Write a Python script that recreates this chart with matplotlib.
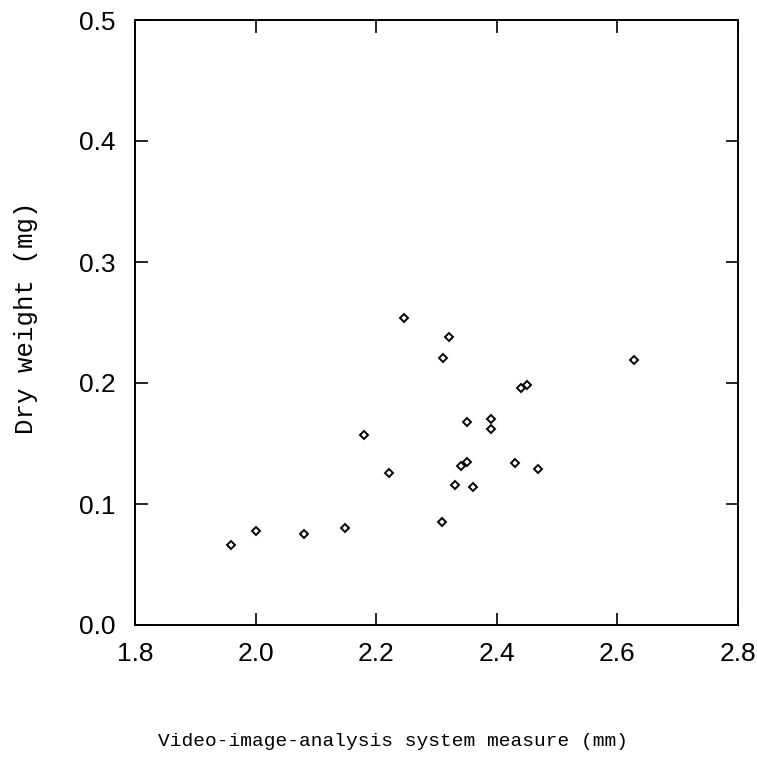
import matplotlib
matplotlib.use("Agg")
import matplotlib.pyplot as plt

x_vals = [1.960, 2.000, 2.080, 2.149, 2.179, 2.221, 2.246, 2.320, 2.310,
          2.440, 2.450, 2.350, 2.390, 2.390, 2.340, 2.350, 2.430, 2.469,
          2.330, 2.360, 2.309, 2.628]
y_vals = [0.066, 0.078, 0.075, 0.080, 0.157, 0.126, 0.254, 0.238, 0.221,
          0.196, 0.198, 0.168, 0.170, 0.162, 0.131, 0.135, 0.134, 0.129,
          0.116, 0.114, 0.085, 0.219]

x_ticks = [1.8, 2.0, 2.2, 2.4, 2.6, 2.8]
x_tick_labels = ["1.8", "2.0", "2.2", "2.4", "2.6", "2.8"]
y_ticks = [0.0, 0.1, 0.2, 0.3, 0.4, 0.5]
y_tick_labels = ["0.0", "0.1", "0.2", "0.3", "0.4", "0.5"]

fig = plt.figure(figsize=(7.57, 7.58), dpi=100)
ax = fig.add_axes([135/757, 1-625/758, (738-135)/757, (625-20)/758])

ax.plot(x_vals, y_vals, linestyle="none", marker="D", markersize=4.2,
        markerfacecolor="white", markeredgecolor="black", markeredgewidth=1.4)

ax.set_xlim(1.8, 2.8)
ax.set_ylim(0.0, 0.5)
ax.set_xticks(x_ticks)
ax.set_xticklabels(x_tick_labels)
ax.set_yticks(y_ticks)
ax.set_yticklabels(y_tick_labels)

for lab in ax.get_xticklabels() + ax.get_yticklabels():
    lab.set_fontfamily("Liberation Sans")
    lab.set_fontsize(19)

ax.tick_params(direction="in", length=9, width=1.2, top=True, right=True,
               labeltop=False, labelright=False)
ax.tick_params(axis="x", pad=12)
ax.tick_params(axis="y", pad=14)
for sp in ax.spines.values():
    sp.set_linewidth(1.4)

fig.text(26/757, 1-318/758, "Dry weight (mg)", fontfamily="Liberation Mono",
         fontsize=18.5, rotation=90, ha="center", va="center")
fig.text(393/757, 1-741/758, "Video-image-analysis system measure (mm)",
         fontfamily="Liberation Mono", fontsize=14, ha="center", va="center")

fig.savefig("out.png", dpi=100, facecolor="white")
